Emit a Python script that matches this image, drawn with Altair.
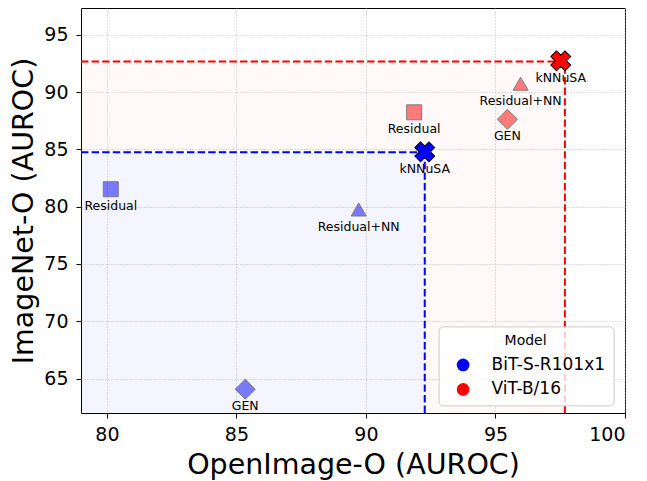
import altair as alt
import pandas as pd

# ---- data ----
models = ["BiT-S-R101x1", "ViT-B/16"]
model_colors = ["blue", "red"]
methods = ["Residual", "Residual+NN", "GEN", "kNNuSA"]
method_shapes = ["square", "triangle-up", "diamond", "cross"]
method_sizes = [225, 225, 400, 380]

bit_x = [80.15, 89.72, 85.34, 92.27]
bit_y = [81.52, 79.75, 64.07, 84.78]
vit_x = [91.86, 95.97, 95.46, 97.52]
vit_y = [88.23, 90.72, 87.62, 92.72]

# best-score guide lines (BiT, ViT)
thr_x = [92.27, 97.68]
thr_y = [84.75, 92.66]

x_ticks = [80, 85, 90, 95, 100]
y_ticks = [65, 70, 75, 80, 85, 90, 95]
x_domain = [79, 100]
y_domain = [62.0, 97.33]

FONT = "DejaVu Sans"

# ---- tables ----
rows = []
for m, xs_, ys_, c in [(models[0], bit_x, bit_y, model_colors[0]),
                       (models[1], vit_x, vit_y, model_colors[1])]:
    for i, meth in enumerate(methods):
        rows.append({"model": m, "method": meth, "x": xs_[i], "y": ys_[i],
                     "col": c, "size": method_sizes[i]})
pts_df = pd.DataFrame(rows)
other_df = pts_df[pts_df.method != "kNNuSA"]
knn_df = pts_df[pts_df.method == "kNNuSA"]

# guide lines
line_df = pd.DataFrame({
    "col": model_colors,
    "x0": [x_domain[0]] * 2,
    "x1": thr_x,
    "y0": [y_domain[0]] * 2,
    "y1": thr_y,
})

# shaded regions: blue box, red L-shape around it (no overlap)
shade_df = pd.DataFrame({
    "col": [model_colors[0], model_colors[1], model_colors[1]],
    "op": [0.04, 0.025, 0.025],
    "x0": [x_domain[0], x_domain[0], thr_x[0]],
    "x1": [thr_x[0], thr_x[1], thr_x[1]],
    "y0": [y_domain[0], thr_y[0], y_domain[0]],
    "y1": [thr_y[0], thr_y[1], thr_y[0]],
})

xs = alt.Scale(domain=x_domain, nice=False, zero=False)
ys = alt.Scale(domain=y_domain, nice=False, zero=False)
xaxis = alt.Axis(values=x_ticks, titleY=60, titleBaseline="alphabetic", labelPadding=7)
yaxis = alt.Axis(values=y_ticks, titleAngle=270, titleX=-48.5, titleY=202.5,
                 titleAlign="center", titleBaseline="alphabetic", labelPadding=8)
XT = "OpenImage-O (AUROC)"
YT = "ImageNet-O (AUROC)"


def X(f):
    return alt.X(f, scale=xs, axis=xaxis, title=XT)


def Y(f):
    return alt.Y(f, scale=ys, axis=yaxis, title=YT)


shade = alt.Chart(shade_df).mark_rect().encode(
    x=X("x0:Q"), x2="x1:Q", y=Y("y0:Q"), y2="y1:Q",
    fill=alt.Fill("col:N", scale=None),
    opacity=alt.Opacity("op:Q", scale=None))

hrule = alt.Chart(line_df).mark_rule(strokeDash=[7.4, 3.2], strokeWidth=2).encode(
    x=X("x0:Q"), x2="x1:Q", y=Y("y1:Q"),
    stroke=alt.Stroke("col:N", scale=None))

vrule = alt.Chart(line_df).mark_rule(strokeDash=[7.4, 3.2], strokeWidth=2).encode(
    x=X("x1:Q"), y=Y("y0:Q"), y2="y1:Q",
    stroke=alt.Stroke("col:N", scale=None))

pts = alt.Chart(other_df).mark_point(filled=True, opacity=0.5, stroke="black",
                                     strokeWidth=1).encode(
    x=X("x:Q"), y=Y("y:Q"),
    shape=alt.Shape("method:N", scale=alt.Scale(domain=methods, range=method_shapes),
                    legend=None),
    size=alt.Size("size:Q", scale=None),
    fill=alt.Fill("col:N", scale=None))

legend_layer = alt.Chart(knn_df).mark_point(filled=True, shape="circle", size=4,
                                            opacity=1).encode(
    x=X("x:Q"), y=Y("y:Q"),
    color=alt.Color("model:N", scale=alt.Scale(domain=models, range=model_colors),
                    legend=alt.Legend(
                        title="Model", orient="none", legendX=357.6, legendY=318.4,
                        titleFontSize=14, titleFontWeight="normal", titleAnchor="middle",
                        titleFont=FONT, titleColor="black", titlePadding=8,
                        labelFontSize=17, labelFont=FONT, labelColor="black",
                        symbolType="circle", symbolSize=161, symbolOffset=8,
                        labelOffset=20, rowPadding=6.5, padding=8,
                        fillColor="rgba(255,255,255,0.8)", strokeColor="#cccccc",
                        cornerRadius=4)))

xmark = alt.Chart(knn_df).mark_point(filled=True, shape="cross", angle=45, size=400,
                                     opacity=1, stroke="black", strokeWidth=1).encode(
    x=X("x:Q"), y=Y("y:Q"),
    fill=alt.Fill("col:N", scale=None))

labels = alt.Chart(pts_df).mark_text(dy=17, fontSize=12.5, font=FONT,
                                     color="black").encode(
    x=X("x:Q"), y=Y("y:Q"), text="method:N")

chart = alt.layer(shade, hrule, vrule, pts, legend_layer, xmark, labels).properties(
    width=544, height=405,
    padding={"left": 73, "top": 0, "right": 14, "bottom": 68},
    autosize=alt.AutoSizeParams(type="none"),
).configure_view(stroke="black", strokeWidth=1).configure_axis(
    domain=False, tickColor="black", tickSize=5, tickWidth=1,
    labelFontSize=19, labelColor="black", labelFont=FONT,
    titleFont=FONT, titleFontSize=28.5, titleFontWeight="normal", titleColor="black",
    grid=True, gridColor="#b0b0b0", gridDash=[1, 2], gridWidth=0.8,
)

chart.save("out.html", embed_options={"renderer": "svg", "actions": False})
